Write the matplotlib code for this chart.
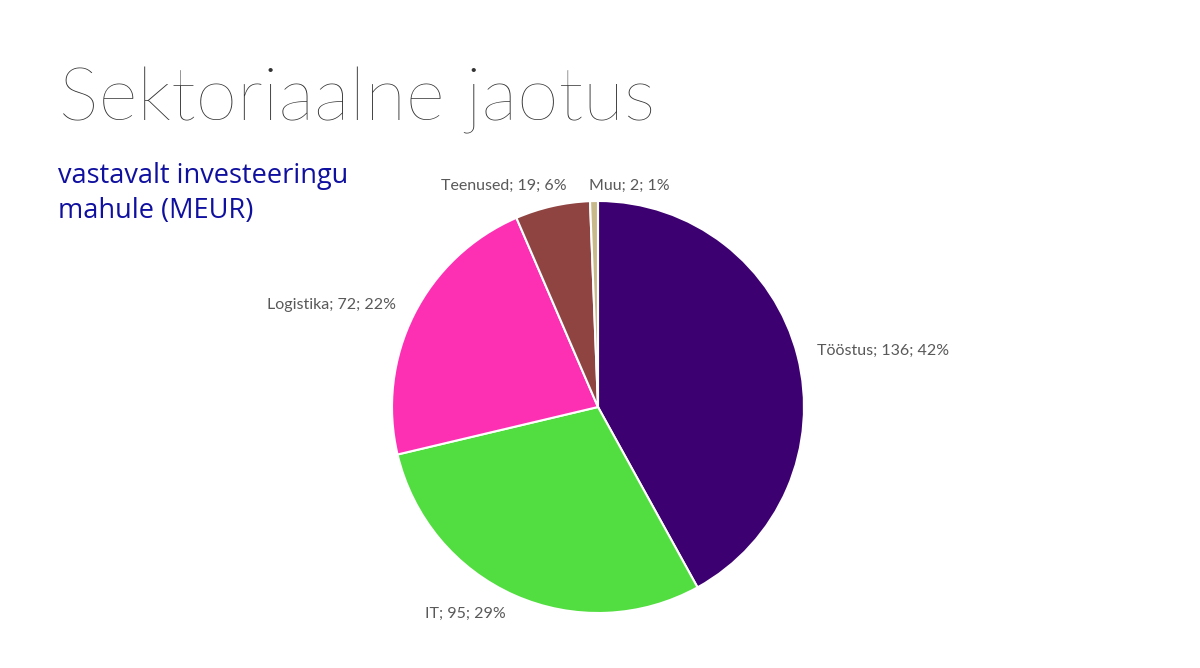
import matplotlib.pyplot as plt

# sector split by investment volume (MEUR)
sectors = ["Tööstus", "IT", "Logistika", "Teenused", "Muu"]
values = [136, 95, 72, 19, 2]
colors = ["#3c0070", "#52dd40", "#fd30b4", "#8f4441", "#c8b98a"]

total = sum(values)
labels = [f"{s}; {v}; {round(v / total * 100)}%" for s, v in zip(sectors, values)]

fig = plt.figure(figsize=(12, 6.68), dpi=100)
W, H = 1200, 668

fig.text(59 / W, 1 - 120 / H, "Sektoriaalne jaotus", fontsize=54, family="Lato",
         fontweight="light", color="#333333", va="baseline")
fig.text(58 / W, 1 - 183 / H, "vastavalt investeeringu", fontsize=19.5,
         family="Open Sans", color="#1010a0", va="baseline")
fig.text(58 / W, 1 - 218 / H, "mahule (MEUR)", fontsize=19.5,
         family="Open Sans", color="#1010a0", va="baseline")

# pie centre ~ (598, 407), radius ~206 px
cx, cy, r = 598, 407, 206
ax = fig.add_axes([(cx - r) / W, (H - cy - r) / H, 2 * r / W, 2 * r / H])
wedges, texts = ax.pie(values, labels=labels, colors=colors, startangle=90,
                       counterclock=False, labeldistance=1.1,
                       wedgeprops=dict(edgecolor="white", linewidth=1.5),
                       textprops=dict(fontsize=11.5, color="#595959", family="Lato"))
ax.set_xlim(-1, 1)
ax.set_ylim(-1, 1)
ax.set_aspect("equal")

# the two small top labels are spread apart like in the original
texts[3].set_position((-0.15, 1.073))
texts[3].set_ha("right")
texts[4].set_position((-0.045, 1.073))
texts[4].set_ha("left")

fig.savefig("out.png", dpi=100)
